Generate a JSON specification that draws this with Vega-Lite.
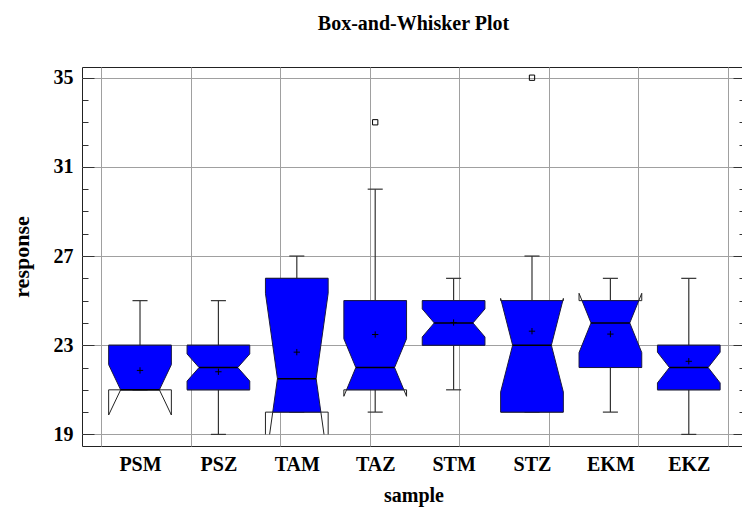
{
  "$schema": "https://vega.github.io/schema/vega-lite/v6.json",
  "width": 663,
  "height": 379,
  "autosize": "none",
  "padding": {"left": 82, "top": 67, "right": 0, "bottom": 64},
  "background": "white",
  "title": {"text": "Box-and-Whisker Plot", "font": "Liberation Serif", "fontSize": 20, "fontWeight": "bold", "color": "#000", "anchor": "middle", "offset": 33},
  "config": {
    "view": {"stroke": "#222", "strokeWidth": 1},
    "axis": {"labelFont": "Liberation Serif", "labelFontSize": 20, "labelFontWeight": "bold", "labelColor": "#000", "titleFont": "Liberation Serif", "titleFontSize": 20, "titleFontWeight": "bold", "titleColor": "#000", "gridColor": "#a0a0a0", "gridWidth": 1, "tickColor": "#333", "tickWidth": 1}
  },
  "data": {"values": [
    {"sample": "PSM", "q1": 21, "median": 21, "q3": 23, "notchLow": 19.87, "notchHigh": 22.13, "mean": 21.87, "whiskerLow": 21, "whiskerHigh": 25, "outlier": null},
    {"sample": "PSZ", "q1": 21, "median": 22, "q3": 23, "notchLow": 21.39, "notchHigh": 22.61, "mean": 21.81, "whiskerLow": 19, "whiskerHigh": 25, "outlier": null},
    {"sample": "TAM", "q1": 20, "median": 21.5, "q3": 26, "notchLow": 17.67, "notchHigh": 25.33, "mean": 22.69, "whiskerLow": 20, "whiskerHigh": 27, "outlier": null},
    {"sample": "TAZ", "q1": 21, "median": 22, "q3": 25, "notchLow": 20.71, "notchHigh": 23.29, "mean": 23.48, "whiskerLow": 20, "whiskerHigh": 30, "outlier": 33},
    {"sample": "STM", "q1": 23, "median": 24, "q3": 25, "notchLow": 23.37, "notchHigh": 24.63, "mean": 24.02, "whiskerLow": 21, "whiskerHigh": 26, "outlier": null},
    {"sample": "STZ", "q1": 20, "median": 23, "q3": 25, "notchLow": 20.9, "notchHigh": 25.1, "mean": 23.63, "whiskerLow": 20, "whiskerHigh": 27, "outlier": 35},
    {"sample": "EKM", "q1": 22, "median": 24, "q3": 25, "notchLow": 22.67, "notchHigh": 25.33, "mean": 23.5, "whiskerLow": 20, "whiskerHigh": 26, "outlier": null},
    {"sample": "EKZ", "q1": 21, "median": 22, "q3": 23, "notchLow": 21.31, "notchHigh": 22.69, "mean": 22.28, "whiskerLow": 19, "whiskerHigh": 26, "outlier": null}
  ]},
  "transform": [
    {"window": [{"op": "row_number", "as": "idx"}]},
    {"calculate": "(datum.notchHigh - datum.notchLow) / 2", "as": "h"},
    {"calculate": "min(datum.q1, max(datum.notchLow, 19))", "as": "lo"},
    {"calculate": "max(datum.q3, min(datum.notchHigh, 35))", "as": "hi"},
    {"calculate": "0.4 - 0.153 * max(0, 1 - abs(datum.q1 - datum.median) / datum.h)", "as": "wq1"},
    {"calculate": "0.4 - 0.153 * max(0, 1 - abs(datum.q3 - datum.median) / datum.h)", "as": "wq3"},
    {"calculate": "0.4 - 0.153 * max(0, 1 - abs(datum.lo - datum.median) / datum.h)", "as": "wlo"},
    {"calculate": "0.4 - 0.153 * max(0, 1 - abs(datum.hi - datum.median) / datum.h)", "as": "whi"},
    {"calculate": "datum.idx - 0.4", "as": "xl"},
    {"calculate": "datum.idx + 0.4", "as": "xr"},
    {"calculate": "datum.idx - datum.wq1", "as": "xq1l"},
    {"calculate": "datum.idx + datum.wq1", "as": "xq1r"},
    {"calculate": "datum.idx - datum.wlo", "as": "xlol"},
    {"calculate": "datum.idx + datum.wlo", "as": "xlor"},
    {"calculate": "datum.idx - datum.wq3", "as": "xq3l"},
    {"calculate": "datum.idx + datum.wq3", "as": "xq3r"},
    {"calculate": "datum.idx - datum.whi", "as": "xhil"},
    {"calculate": "datum.idx + datum.whi", "as": "xhir"},
    {"calculate": "datum.idx - 0.247", "as": "ml"},
    {"calculate": "datum.idx + 0.247", "as": "mr"},
    {"calculate": "datum.idx - 0.096", "as": "cl"},
    {"calculate": "datum.idx + 0.096", "as": "cr"}
  ],
  "layer": [
    {
      "mark": {"type": "rule", "color": "#333", "strokeWidth": 1.2},
      "encoding": {
        "x": {"field": "idx", "type": "quantitative", "scale": {"domain": [0.26, 8.717], "nice": false, "zero": false},
          "axis": {"orient": "bottom", "values": [1, 2, 3, 4, 5, 6, 7, 8], "labelExpr": "['PSM','PSZ','TAM','TAZ','STM','STZ','EKM','EKZ'][round(datum.value) - 1]", "ticks": false, "grid": false, "domain": false, "labelPadding": 8, "title": "sample", "titlePadding": 11}},
        "y": {"field": "q3", "type": "quantitative", "scale": {"domain": [18.48, 35.48], "nice": false, "zero": false},
          "axis": {"orient": "left", "values": [19, 20, 21, 22, 23, 24, 25, 26, 27, 28, 29, 30, 31, 32, 33, 34, 35],
            "labelExpr": "datum.value % 4 == 3 ? datum.label : ''",
            "tickSize": {"condition": {"test": "datum.value % 4 == 3", "value": -12}, "value": -6},
            "grid": true,
            "gridOpacity": {"condition": {"test": "datum.value % 4 == 3", "value": 1}, "value": 0},
            "domain": false, "labelPadding": 21, "title": "response", "titleFontSize": 22, "titlePadding": 20}},
        "y2": {"field": "whiskerHigh"}
      }
    },
    {
      "mark": {"type": "rule", "color": "#333", "strokeWidth": 1.2},
      "encoding": {
        "x": {"field": "idx", "type": "quantitative", "axis": null},
        "y": {"field": "whiskerLow", "type": "quantitative", "axis": null},
        "y2": {"field": "q1"}
      }
    },
    {
      "mark": {"type": "rule", "color": "#333", "strokeWidth": 1.2},
      "encoding": {
        "x": {"field": "cl", "type": "quantitative", "axis": null},
        "x2": {"field": "cr"},
        "y": {"field": "whiskerHigh", "type": "quantitative", "axis": null}
      }
    },
    {
      "mark": {"type": "rule", "color": "#333", "strokeWidth": 1.2},
      "encoding": {
        "x": {"field": "cl", "type": "quantitative", "axis": null},
        "x2": {"field": "cr"},
        "y": {"field": "whiskerLow", "type": "quantitative", "axis": null}
      }
    },
    {
      "mark": {"type": "rule", "color": "#222", "strokeWidth": 1},
      "encoding": {
        "x": {"field": "xl", "type": "quantitative", "axis": null},
        "y": {"field": "lo", "type": "quantitative", "axis": null},
        "y2": {"field": "q1"}
      }
    },
    {
      "mark": {"type": "rule", "color": "#222", "strokeWidth": 1},
      "encoding": {
        "x": {"field": "xr", "type": "quantitative", "axis": null},
        "y": {"field": "lo", "type": "quantitative", "axis": null},
        "y2": {"field": "q1"}
      }
    },
    {
      "mark": {"type": "rule", "color": "#222", "strokeWidth": 1},
      "encoding": {
        "x": {"field": "xq1l", "type": "quantitative", "axis": null},
        "x2": {"field": "xlol"},
        "y": {"field": "q1", "type": "quantitative", "axis": null},
        "y2": {"field": "lo"}
      }
    },
    {
      "mark": {"type": "rule", "color": "#222", "strokeWidth": 1},
      "encoding": {
        "x": {"field": "xq1r", "type": "quantitative", "axis": null},
        "x2": {"field": "xlor"},
        "y": {"field": "q1", "type": "quantitative", "axis": null},
        "y2": {"field": "lo"}
      }
    },
    {
      "mark": {"type": "rule", "color": "#222", "strokeWidth": 1},
      "encoding": {
        "x": {"field": "xl", "type": "quantitative", "axis": null},
        "y": {"field": "q3", "type": "quantitative", "axis": null},
        "y2": {"field": "hi"}
      }
    },
    {
      "mark": {"type": "rule", "color": "#222", "strokeWidth": 1},
      "encoding": {
        "x": {"field": "xr", "type": "quantitative", "axis": null},
        "y": {"field": "q3", "type": "quantitative", "axis": null},
        "y2": {"field": "hi"}
      }
    },
    {
      "mark": {"type": "rule", "color": "#222", "strokeWidth": 1},
      "encoding": {
        "x": {"field": "xq3l", "type": "quantitative", "axis": null},
        "x2": {"field": "xhil"},
        "y": {"field": "q3", "type": "quantitative", "axis": null},
        "y2": {"field": "hi"}
      }
    },
    {
      "mark": {"type": "rule", "color": "#222", "strokeWidth": 1},
      "encoding": {
        "x": {"field": "xq3r", "type": "quantitative", "axis": null},
        "x2": {"field": "xhir"},
        "y": {"field": "q3", "type": "quantitative", "axis": null},
        "y2": {"field": "hi"}
      }
    },
    {
      "mark": {"type": "rule", "color": "#222", "strokeWidth": 1},
      "encoding": {
        "x": {"field": "xl", "type": "quantitative", "axis": null},
        "x2": {"field": "xr"},
        "y": {"field": "q1", "type": "quantitative", "axis": null}
      }
    },
    {
      "mark": {"type": "rule", "color": "#222", "strokeWidth": 1},
      "encoding": {
        "x": {"field": "xl", "type": "quantitative", "axis": null},
        "x2": {"field": "xr"},
        "y": {"field": "q3", "type": "quantitative", "axis": null}
      }
    },
    {
      "transform": [
        {"fold": ["q1", "notchLow", "median", "notchHigh", "q3"], "as": ["k", "v"]},
        {"calculate": "clamp(datum.v, datum.q1, datum.q3)", "as": "yc"},
        {"calculate": "0.4 - 0.153 * max(0, 1 - abs(datum.yc - datum.median) / datum.h)", "as": "hw"},
        {"calculate": "datum.idx - datum.hw", "as": "fx1"},
        {"calculate": "datum.idx + datum.hw", "as": "fx2"}
      ],
      "mark": {"type": "area", "orient": "horizontal", "fill": "#0000ff", "fillOpacity": 1, "stroke": "#1a1a40", "strokeWidth": 1},
      "encoding": {
        "y": {"field": "yc", "type": "quantitative", "axis": null},
        "x": {"field": "fx1", "type": "quantitative", "axis": null, "stack": null},
        "x2": {"field": "fx2"},
        "detail": {"field": "sample", "type": "nominal"}
      }
    },
    {
      "mark": {"type": "rule", "color": "#000", "strokeWidth": 1.5},
      "encoding": {
        "x": {"field": "ml", "type": "quantitative", "axis": null},
        "x2": {"field": "mr"},
        "y": {"field": "median", "type": "quantitative", "axis": null}
      }
    },
    {
      "mark": {"type": "point", "shape": "M-1,0H1M0,-1V1", "filled": false, "stroke": "#000", "strokeWidth": 1, "size": 40, "opacity": 1},
      "encoding": {
        "x": {"field": "idx", "type": "quantitative",
          "axis": {"orient": "top", "values": [0.503, 1.645, 2.786, 3.928, 5.069, 6.211, 7.353, 8.494], "labels": false, "ticks": false, "domain": false, "grid": true, "title": null}},
        "y": {"field": "mean", "type": "quantitative",
          "axis": {"orient": "right", "values": [19, 20, 21, 22, 23, 24, 25, 26, 27, 28, 29, 30, 31, 32, 33, 34, 35], "labels": false,
            "tickSize": {"condition": {"test": "datum.value % 4 == 3", "value": -12}, "value": -6},
            "grid": false, "domain": false, "title": null}}
      }
    },
    {
      "transform": [{"filter": "isValid(datum.outlier)"}],
      "mark": {"type": "point", "shape": "square", "filled": false, "stroke": "#000", "strokeWidth": 1, "size": 28, "opacity": 1},
      "encoding": {
        "x": {"field": "idx", "type": "quantitative", "axis": null},
        "y": {"field": "outlier", "type": "quantitative", "axis": null}
      }
    }
  ],
  "resolve": {"axis": {"x": "independent", "y": "independent"}}
}
